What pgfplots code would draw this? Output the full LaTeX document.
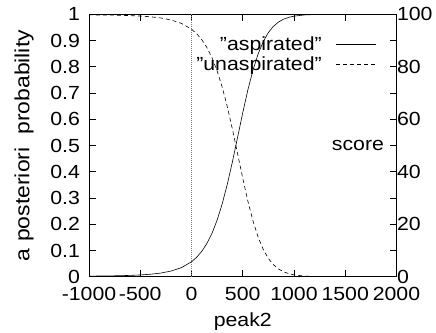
\documentclass[border=0pt]{standalone}
\usepackage{fontspec}
\setmainfont{Liberation Sans}[FakeStretch=1.12]
\usepackage{pgfplots}
\usepackage{pgfplotstable}
\pgfplotsset{compat=1.18}

\pgfplotstableread{
x asp unasp
-1000 0.0023 0.9977
-900 0.0026 0.9974
-800 0.0031 0.9969
-700 0.0038 0.9962
-600 0.0050 0.9950
-500 0.0067 0.9933
-400 0.0094 0.9906
-300 0.0139 0.9861
-200 0.0214 0.9786
-100 0.0343 0.9657
0 0.0568 0.9432
50 0.0739 0.9261
100 0.0966 0.9034
150 0.1264 0.8736
200 0.1655 0.8345
250 0.2157 0.7843
300 0.2782 0.7218
350 0.3533 0.6467
400 0.4393 0.5607
450 0.5317 0.4683
500 0.6248 0.3752
550 0.7118 0.2882
600 0.7875 0.2125
650 0.8490 0.1510
700 0.8961 0.1039
750 0.9305 0.0695
800 0.9545 0.0455
850 0.9709 0.0291
900 0.9817 0.0183
950 0.9886 0.0114
1000 0.9930 0.0070
1100 0.9975 0.0025
1200 0.9991 0.0009
1300 0.9997 0.0003
1400 0.9999 0.0001
1600 1.0000 0.0000
2000 1.0000 0.0000
}\posttable

\newcommand{\fnt}{\fontsize{19}{22}\selectfont}

\begin{document}
\begin{tikzpicture}[font=\fnt]
\useasboundingbox (0,0) rectangle (436pt,-332pt);
\begin{axis}[
  at={(89pt,-276.7pt)}, anchor=south west,
  width=307.5pt, height=262.4pt, scale only axis,
  xmin=-1000, xmax=2000, ymin=0, ymax=1,
  xtick={-1000,-500,0,500,1000,1500,2000},
  xticklabels={-1000,-500,0,500,1000,1500,2000},
  ytick={0,0.1,0.2,0.3,0.4,0.5,0.6,0.7,0.8,0.9,1},
  yticklabels={0,0.1,0.2,0.3,0.4,0.5,0.6,0.7,0.8,0.9,1},
  tick align=inside,
  major tick length=7pt,
  axis line style={line width=0.9pt},
  tick style={line width=0.7pt, black},
  every tick label/.append style={font=\fnt},
  yticklabel style={xshift=-5.5pt},
  xticklabel style={yshift=-7pt},
  label style={font=\fnt},
  xlabel={peak2},
  xlabel style={yshift=-5pt},
  ylabel={a posteriori\ \ probability},
  ylabel style={font=\fontsize{20.5}{24}\selectfont, yshift=10pt},
  legend style={draw=none, fill=none, font=\fnt, at={(1,1)}, anchor=north east, xshift=-17pt, yshift=-18pt, row sep=0.5pt,
    /tikz/every odd column/.append style={column sep=12pt}},
  legend plot pos=right,
  legend cell align=right,
  legend image code/.code={\draw[#1] (0pt,0pt) -- (40pt,0pt);},
]
\addplot[gray, line width=0.6pt, dash pattern=on 0.8pt off 1.2pt, forget plot] coordinates {(0,0) (0,1)};
\addplot[black, line width=0.6pt] table[x=x, y=asp] {\posttable};
\addlegendentry{"aspirated"}
\addplot[black, line width=0.6pt, dash pattern=on 4pt off 3pt] table[x=x, y=unasp] {\posttable};
\addlegendentry{"unaspirated"}
\node[anchor=east, xshift=-9pt, font=\fnt] at (rel axis cs:1,0.5) {score};
\end{axis}
\begin{axis}[
  at={(89pt,-276.7pt)}, anchor=south west,
  width=307.5pt, height=262.4pt, scale only axis,
  xmin=-1000, xmax=2000, ymin=0, ymax=100,
  hide x axis,
  axis y line*=right,
  axis line style={draw=none},
  ytick={0,20,40,60,80,100},
  yticklabels={0,20,40,60,80,100},
  major tick length=0pt,
  every tick label/.append style={font=\fnt},
  yticklabel style={xshift=-3pt},
]
\addplot[draw=none] coordinates {(0,0)};
\end{axis}
\end{tikzpicture}
\end{document}
